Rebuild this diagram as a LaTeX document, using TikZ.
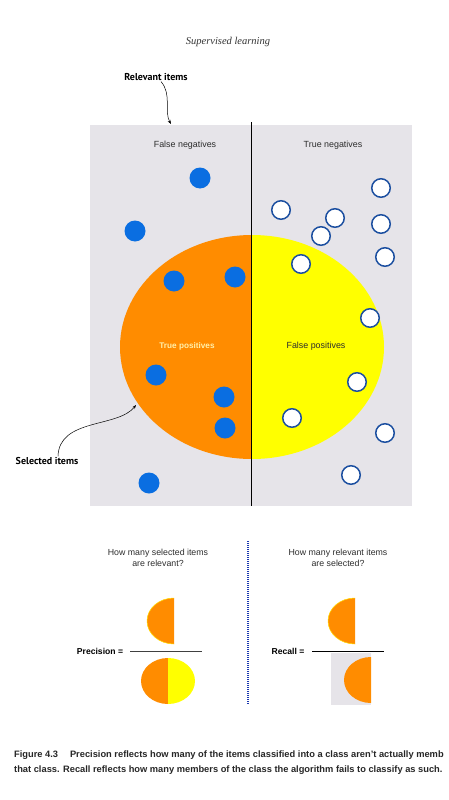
\documentclass[tikz,border=0pt]{standalone}
\usepackage{fontspec}
\setmainfont{Liberation Sans}
\newfontfamily\headfont{Liberation Serif}
\newfontfamily\callfont{PT Sans}
\usetikzlibrary{arrows.meta}
\definecolor{panelgray}{RGB}{230,228,233}
\definecolor{selorange}{RGB}{255,140,0}
\definecolor{selyellow}{RGB}{255,255,0}
\definecolor{dotblue}{RGB}{10,110,225}
\definecolor{ringblue}{RGB}{28,79,160}
\definecolor{tptext}{RGB}{255,240,170}
\definecolor{lbltext}{RGB}{45,45,45}
\definecolor{dotline}{RGB}{25,55,175}

\begin{document}
\begin{tikzpicture}[x=1pt,y=1pt,yscale=-1,xscale=1,
    posdot/.style={circle,fill=dotblue,minimum size=21pt,inner sep=0pt},
    negdot/.style={circle,draw=ringblue,line width=1.5pt,fill=white,minimum size=18.5pt,inner sep=0pt},
    lbl/.style={inner sep=0.75pt,text=lbltext,font=\fontsize{8.9}{10}\selectfont},
    qtext/.style={inner sep=0.75pt,text=lbltext,align=center,font=\fontsize{8.8}{10.5}\selectfont},
    eqlbl/.style={inner sep=0.75pt,text=black,font=\bfseries\fontsize{8.6}{10}\selectfont},
    callout/.style={inner sep=0.75pt,font=\callfont\bfseries\fontsize{10}{12}\selectfont},
    callarrow/.style={-{Stealth[length=4pt,width=3pt]},line width=0.5pt},
    captext/.style={anchor=west,inner sep=0pt,text=black!85,font=\bfseries\fontsize{9.3}{10}\selectfont}]
  \useasboundingbox (0,0) rectangle (449,800);

  % Text Node
  \node[font=\headfont\itshape\fontsize{10.5}{12}\selectfont,text=black!80] (head) at (228,42) {Supervised learning};

  %Shape: Rectangle
  \fill[panelgray] (90,125) rectangle (412,506);
  %Shape: Ellipse, left half
  \begin{scope}
    \clip (90,125) rectangle (251,506);
    \fill[selorange] (252,347) ellipse [x radius=132, y radius=112];
  \end{scope}
  %Shape: Ellipse, right half
  \begin{scope}
    \clip (251,125) rectangle (412,506);
    \fill[selyellow] (252,347) ellipse [x radius=132, y radius=112];
  \end{scope}
  %Straight Lines
  \draw[line width=0.8pt] (251,122) -- (251,506);

  % Items
  \foreach \px/\py [count=\i] in {200/178,135/231,174/281,235/277,156/375,224/397,225/428,149/483}
    \node[posdot] (pos\i) at (\px,\py) {};
  \foreach \px/\py [count=\i] in {281/210,335/218,381/188,381/224,321/236,301/264,385/257,370/318,357/382,292/418,385/433,351/475}
    \node[negdot] (neg\i) at (\px,\py) {};

  % Text Node
  \node[lbl] (fneg) at (185,145) {False negatives};
  % Text Node
  \node[lbl] (tneg) at (333,145) {True negatives};
  % Text Node
  \node[lbl,text=tptext,font=\bfseries\fontsize{8.2}{10}\selectfont] (tpos) at (187,346) {True positives};
  % Text Node
  \node[lbl] (fpos) at (316,346) {False positives};

  % Callouts
  \node[callout] (relv) at (156,77) {Relevant items};
  \coordinate (relvtip) at (171,124);
  \draw[callarrow] ([xshift=5pt]relv.south) .. controls (172,94) and (164,112) .. (relvtip);
  \node[callout] (selc) at (47,461) {Selected items};
  \coordinate (selctip) at (136,405);
  \draw[callarrow] ([xshift=11pt]selc.north) .. controls (59,418) and (118,428) .. (selctip);

  %Dotted divider
  \draw[dotline,line width=1.5pt,dash pattern={on 1pt off 1pt}] (248,541) -- (248,705);

  % Precision
  \node[qtext] (qprec) at (158,558) {How many selected items\\are relevant?};
  \node[eqlbl] (prec) at (100,651) {Precision =};
  \draw[line width=0.6pt,black!75] (130,651) -- (202,651);
  \begin{scope}
    \clip (100,590) rectangle (174,650);
    \fill[selorange,draw=selyellow!70!selorange,line width=0.5pt] (174,621) ellipse [x radius=27, y radius=23];
  \end{scope}
  \begin{scope}
    \clip (130,650) rectangle (168,710);
    \fill[selorange] (168,681) ellipse [x radius=27, y radius=23];
  \end{scope}
  \begin{scope}
    \clip (168,650) rectangle (210,710);
    \fill[selyellow] (168,681) ellipse [x radius=27, y radius=23];
  \end{scope}

  % Recall
  \node[qtext] (qrec) at (338,558) {How many relevant items\\are selected?};
  \node[eqlbl] (rec) at (288,651) {Recall =};
  \draw[line width=0.6pt,black] (312,651) -- (384,651);
  \begin{scope}
    \clip (300,590) rectangle (355,650);
    \fill[selorange,draw=selyellow!70!selorange,line width=0.5pt] (355,621) ellipse [x radius=27, y radius=23];
  \end{scope}
  \fill[panelgray] (331,653) rectangle (371,705);
  \begin{scope}
    \clip (331,653) rectangle (371,705);
    \fill[selorange] (371,680) ellipse [x radius=27, y radius=23];
  \end{scope}

  % Caption
  \node[captext] (cap1) at (14,755) {Figure 4.3\quad\ Precision reflects how many of the items classified into a class aren't actually memb};
  \node[captext] (cap2) at (14,770) {that class. Recall reflects how many members of the class the algorithm fails to classify as such.};
\end{tikzpicture}
\end{document}
